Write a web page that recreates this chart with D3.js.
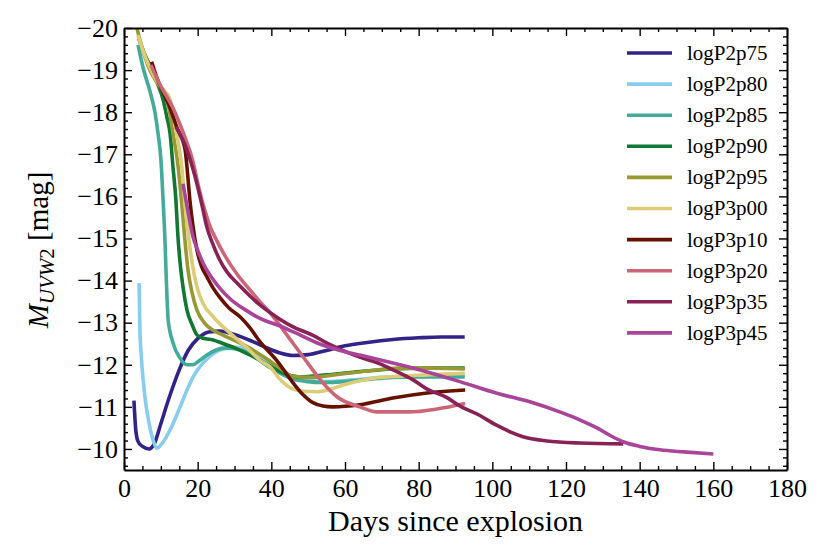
<!DOCTYPE html>
<html>
<head>
<meta charset="utf-8">
<script src="https://cdn.jsdelivr.net/npm/d3@7"></script>
<style>
  body { margin: 0; background: #fff; }
  svg text { font-family: "Liberation Serif", serif; fill: #000; }
  .axis path { stroke: #000; stroke-width: 2; }
  .axis line { stroke: #000; stroke-width: 1.4; }
  .axis text { font-size: 26px; }
</style>
</head>
<body>
<svg id="chart" width="830" height="554"></svg>
<script>
// light curves, days since explosion vs M_UVW2
const days_P2p75 = [2.7, 3.2, 3.8, 5, 6.8, 8.2, 10, 12, 15, 17.5, 20, 23, 26, 30, 35, 38.8, 42.4, 46, 50, 55, 60, 66, 73, 80, 86, 92.5];
const mag_P2p75  = [-11.15, -10.45, -10.18, -10.06, -10.0, -10.12, -10.6, -11.15, -11.88, -12.35, -12.62, -12.78, -12.8, -12.72, -12.55, -12.4, -12.28, -12.22, -12.24, -12.34, -12.45, -12.53, -12.6, -12.64, -12.66, -12.66];

const days_P2p80 = [4.1, 4.3, 4.7, 5.2, 5.8, 6.5, 7.9, 8.9, 10.5, 12.5, 15, 17.1, 19, 21.4, 24, 26, 30, 33.5, 37, 42.4, 46, 50, 55, 62, 70, 80, 92.5];
const mag_P2p80  = [-13.94, -12.9, -12.2, -11.64, -11.15, -10.76, -10.21, -10.02, -10.15, -10.45, -10.95, -11.4, -11.75, -12.04, -12.25, -12.35, -12.42, -12.35, -12.18, -11.88, -11.7, -11.62, -11.6, -11.64, -11.7, -11.73, -11.76];

const days_P2p85 = [3.8, 5.2, 7.1, 8.4, 9.3, 10.0, 10.5, 11.1, 11.5, 12, 13.3, 15.2, 17.1, 18.7, 20.5, 22.5, 25, 27.5, 30, 33.4, 38.8, 42, 45.9, 50, 53.2, 60, 66, 73, 80, 92.5];
const mag_P2p85  = [-19.6, -19.05, -18.48, -18.0, -17.46, -16.9, -16.1, -15.0, -14.0, -13.06, -12.52, -12.16, -12.0, -12.0, -12.1, -12.23, -12.35, -12.4, -12.38, -12.3, -11.98, -11.82, -11.66, -11.6, -11.58, -11.6, -11.65, -11.7, -11.71, -11.71];

const days_P2p90 = [4, 5.5, 7.6, 9, 10.6, 11.6, 12.5, 13.3, 14.1, 14.6, 15.2, 16.1, 17.1, 18.5, 19.8, 21.5, 24.2, 27, 29.6, 33, 36.9, 41.5, 43.2, 47.8, 55, 64, 73, 82, 92.5];
const mag_P2p90  = [-19.75, -19.4, -19.0, -18.7, -18.3, -17.9, -17.5, -16.7, -15.9, -15.1, -14.45, -13.8, -13.3, -12.95, -12.71, -12.63, -12.59, -12.5, -12.42, -12.28, -12.11, -11.88, -11.8, -11.71, -11.76, -11.84, -11.9, -11.92, -11.92];

const days_P2p95 = [3.5, 5, 7, 9, 11.7, 13.3, 14.7, 15.7, 16.5, 17.3, 18.5, 19.8, 22, 24.2, 27, 30.7, 34, 37.7, 42.4, 45.9, 50.5, 57, 64, 75, 84, 92.5];
const mag_P2p95  = [-20, -19.5, -19.0, -18.7, -18.3, -17.5, -16.7, -15.8, -15.0, -14.3, -13.7, -13.3, -12.98, -12.82, -12.7, -12.55, -12.4, -12.2, -11.92, -11.72, -11.7, -11.76, -11.83, -11.92, -11.92, -11.9];

const days_P3p00 = [3.8, 5, 7.9, 10, 12.5, 14.3, 15.7, 16.6, 17.6, 18.5, 19.8, 21.5, 24.2, 28.8, 33.4, 37, 39.6, 42.4, 45.9, 49, 52.4, 56, 59.5, 64, 68.7, 75, 82.3, 92.5];
const mag_P3p00  = [-19.83, -19.5, -18.9, -18.6, -18.3, -17.5, -16.7, -15.8, -15.0, -14.42, -13.85, -13.45, -13.14, -12.75, -12.4, -12.1, -11.95, -11.65, -11.42, -11.37, -11.36, -11.42, -11.52, -11.62, -11.69, -11.73, -11.76, -11.8];

const days_P3p10 = [7.5, 9, 10.6, 12.5, 14.3, 16.6, 17.3, 17.9, 18.8, 19.8, 21, 22.5, 24, 26, 28.5, 31.5, 34, 36.9, 41.5, 45.9, 48.5, 51.3, 54, 56.7, 64, 73, 82.3, 92.6];
const mag_P3p10  = [-19.2, -18.8, -18.48, -18.1, -17.65, -17.1, -16.5, -15.9, -15.25, -14.73, -14.35, -14.09, -13.85, -13.6, -13.35, -13.14, -12.9, -12.55, -12.1, -11.57, -11.3, -11.1, -11.02, -11.0, -11.05, -11.21, -11.33, -11.4];

const days_P3p20 = [7.3, 9.8, 13.3, 16, 18.5, 20.6, 22, 23.3, 25.2, 27, 30.7, 33.5, 36.9, 40, 43.2, 48.6, 54, 57.8, 64, 68.7, 77.6, 85, 92.6];
const mag_P3p20  = [-19.12, -18.65, -18.1, -17.53, -16.9, -16.1, -15.65, -15.3, -14.95, -14.65, -14.15, -13.85, -13.5, -13.2, -12.83, -12.19, -11.57, -11.24, -11.0, -10.88, -10.88, -10.95, -11.08];

const days_P3p35 = [14.1, 17.1, 19.8, 21.2, 22.5, 24.2, 26, 28, 30.7, 34, 36.9, 42, 45.9, 51.3, 55, 60.5, 64, 69.5, 73, 78.5, 82.3, 87.7, 91.2, 96.5, 101, 105, 108.3, 114.8, 123.8, 135.5];
const mag_P3p35  = [-17.65, -17.1, -16.3, -15.78, -15.27, -14.85, -14.49, -14.2, -13.94, -13.65, -13.42, -13.1, -12.9, -12.7, -12.52, -12.3, -12.18, -12.02, -11.88, -11.64, -11.42, -11.22, -11.02, -10.8, -10.57, -10.4, -10.29, -10.19, -10.14, -10.12];

const days_P3p45 = [16, 17.4, 18.7, 20.1, 22, 24, 26, 29, 33.4, 36.9, 42.4, 46, 53, 60.5, 64, 73, 82.3, 91.2, 101, 110.2, 119.2, 124, 128.4, 132, 135.5, 140, 145.5, 152, 160];
const mag_P3p45  = [-16.3, -15.63, -15.05, -14.7, -14.32, -14.05, -13.82, -13.55, -13.28, -13.1, -12.92, -12.78, -12.5, -12.3, -12.23, -12.04, -11.83, -11.6, -11.33, -11.12, -10.85, -10.68, -10.5, -10.32, -10.17, -10.06, -9.98, -9.93, -9.88];

const names  = ["logP2p75", "logP2p80", "logP2p85", "logP2p90", "logP2p95", "logP3p00", "logP3p10", "logP3p20", "logP3p35", "logP3p45"];
const colors = ["#332288", "#88CCEE", "#44AA99", "#117733", "#999933", "#DDCC77", "#661100", "#CC6677", "#882255", "#AA4499"];

const xTicks = [0, 20, 40, 60, 80, 100, 120, 140, 160, 180];
const yTicks = [-20, -19, -18, -17, -16, -15, -14, -13, -12, -11, -10];

const allDays = [days_P2p75, days_P2p80, days_P2p85, days_P2p90, days_P2p95, days_P3p00, days_P3p10, days_P3p20, days_P3p35, days_P3p45];
const allMags = [mag_P2p75, mag_P2p80, mag_P2p85, mag_P2p90, mag_P2p95, mag_P3p00, mag_P3p10, mag_P3p20, mag_P3p35, mag_P3p45];

const series = names.map((name, i) => ({
    name: name,
    color: colors[i],
    points: allDays[i].map((d, j) => [d, allMags[i][j]])
}));

const FONT = '"Liberation Serif", serif';
const margin = {left: 124, top: 28, right: 43, bottom: 84};
const width = 830 - margin.left - margin.right,
      height = 554 - margin.top - margin.bottom;

const svg = d3.select('#chart');
const g = svg.append('g')
    .attr('transform', `translate(${margin.left},${margin.top})`);

const x = d3.scaleLinear().domain([0, 180]).range([0, width]);
const y = d3.scaleLinear().domain([-20, -9.5]).range([0, height]);

const minus = s => String(s).replace('-', '\u2212');

g.append('clipPath').attr('id', 'clip')
    .append('rect').attr('width', width).attr('height', height);

// lines first, frame drawn on top
const line = d3.line()
    .x(d => x(d[0]))
    .y(d => y(d[1]))
    .curve(d3.curveMonotoneX);

g.append('g').attr('clip-path', 'url(#clip)')
    .selectAll('path')
    .data(series)
    .join('path')
    .attr('fill', 'none')
    .attr('stroke', d => d.color)
    .attr('stroke-width', 3.6)
    .attr('stroke-linejoin', 'round')
    .attr('d', d => line(d.points));

// minor ticks
const xMinor = d3.range(0, 181, 5).filter(v => v % 20 != 0);
const yMinor = d3.range(-20, -9.4, 0.2).map(v => +v.toFixed(1)).filter(v => Math.abs(v - Math.round(v)) > 0.01);

function minorAxis(axisFn, scale, vals, tr) {
    g.append('g').attr('class', 'axis').attr('transform', tr)
        .call(axisFn(scale).tickValues(vals).tickSize(-4).tickFormat(''))
        .call(s => s.select('.domain').remove());
}
minorAxis(d3.axisBottom, x, xMinor, `translate(0,${height})`);
minorAxis(d3.axisTop, x, xMinor, 'translate(0,0)');
minorAxis(d3.axisLeft, y, yMinor, 'translate(0,0)');
minorAxis(d3.axisRight, y, yMinor, `translate(${width},0)`);

// major ticks
g.append('g').attr('class', 'axis').attr('transform', `translate(0,${height})`)
    .call(d3.axisBottom(x).tickValues(xTicks).tickSize(-8).tickPadding(9).tickSizeOuter(0));
g.append('g').attr('class', 'axis')
    .call(d3.axisTop(x).tickValues(xTicks).tickSize(-8).tickFormat('').tickSizeOuter(0));
g.append('g').attr('class', 'axis')
    .call(d3.axisLeft(y).tickValues(yTicks).tickSize(-8).tickPadding(6).tickSizeOuter(0).tickFormat(minus));
g.append('g').attr('class', 'axis').attr('transform', `translate(${width},0)`)
    .call(d3.axisRight(y).tickValues(yTicks).tickSize(-8).tickFormat('').tickSizeOuter(0));

g.selectAll('.axis').attr('font-family', FONT).attr('font-size', 26);
g.selectAll('.axis .domain').attr('stroke-width', 2);

// axis labels
svg.append('text')
    .attr('x', margin.left + x(90))
    .attr('y', 531)
    .attr('text-anchor', 'middle')
    .attr('font-family', FONT)
    .style('font-size', '30px')
    .text('Days since explosion');

const yl = svg.append('text')
    .attr('transform', 'translate(48,250) rotate(-90)')
    .attr('text-anchor', 'middle')
    .attr('font-family', FONT)
    .style('font-size', '29px');
yl.append('tspan').style('font-style', 'italic').text('M');
yl.append('tspan').attr('dy', 6).style('font-size', '21px').style('font-style', 'italic').text('UVW');
yl.append('tspan').style('font-size', '21px').text('2');
yl.append('tspan').attr('dy', -6).text(' [mag]');

// legend
const legend = svg.append('g').attr('transform', 'translate(627,53)');
const item = legend.selectAll('g')
    .data(series)
    .join('g')
    .attr('transform', (d, i) => `translate(0,${i * 31.1})`);
item.append('line')
    .attr('x1', 0).attr('x2', 45)
    .attr('stroke', d => d.color)
    .attr('stroke-width', 3.6);
item.append('text')
    .attr('x', 60)
    .attr('dy', '0.33em')
    .attr('font-family', FONT)
    .style('font-size', '21px')
    .text(d => d.name);
</script>
</body>
</html>
